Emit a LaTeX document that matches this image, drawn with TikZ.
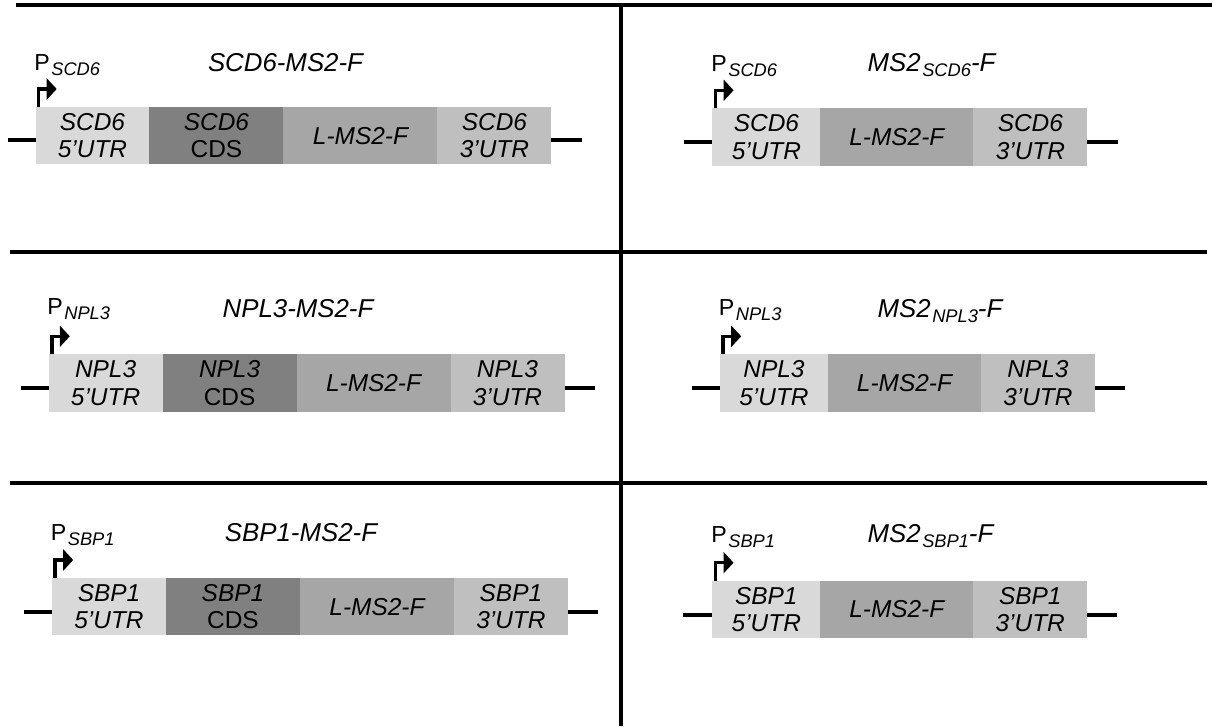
\documentclass[tikz,border=0pt]{standalone}
\usepackage{fontspec}
\setmainfont{Liberation Sans}
\usepackage{tikz}
\usetikzlibrary{arrows.meta, positioning}

\definecolor{utrfive}{HTML}{D9D9D9}
\definecolor{cdsgray}{HTML}{808080}
\definecolor{msgray}{HTML}{A6A6A6}
\definecolor{utrthree}{HTML}{BFBFBF}

\newcommand{\lowsub}[1]{\kern0.03cm\raisebox{-0.1cm}{\fontsize{10.4}{12}\selectfont\itshape #1}}

\tikzset{
  seg/.style={rectangle, inner sep=0pt, outer sep=0pt, minimum height=1.15cm, align=center, font=\fontsize{13.9}{15.5}\selectfont\itshape},
  fiveutr/.style={seg, fill=utrfive, minimum width=2.28cm},
  fiveutrs/.style={seg, fill=utrfive, minimum width=2.16cm},
  cds/.style={seg, fill=cdsgray, minimum width=2.68cm},
  linker/.style={seg, fill=msgray, minimum width=3.08cm},
  linkers/.style={seg, fill=msgray, minimum width=3.06cm},
  threeutr/.style={seg, fill=utrthree, minimum width=2.28cm},
  dna/.style={line width=0.08cm},
  divider/.style={line width=0.08cm},
  prom/.style={line width=0.07cm, -{Triangle[length=0.2cm, width=0.42cm]}},
  plab/.style={inner sep=0pt, anchor=base west, font=\fontsize{13.2}{15}\selectfont},
  constr/.style={inner sep=0pt, anchor=base, font=\fontsize{14.7}{17}\selectfont\itshape},
}

\begin{document}
\begin{tikzpicture}[x=0.02cm, y=-0.02cm]
  \useasboundingbox (0,0) rectangle (1212,726);

  % grid
  \draw[divider] (16,5) -- (1212,5);
  \draw[divider] (10,252) -- (1207,252);
  \draw[divider] (10,482.5) -- (1207,482.5);
  \draw[divider] (621,5) -- (621,726);

  % SCD6-MS2-F
  \node[fiveutr, anchor=north west] at (35.5,107) (tl5) {SCD6\\5’UTR};
  \node[cds, right=0pt of tl5]      (tlc) {SCD6\\\textup{CDS}};
  \node[linker, right=0pt of tlc]   (tlm) {L-MS2-F};
  \node[threeutr, right=0pt of tlm] (tl3) {SCD6\\3’UTR};
  \node[plab] at (34,70.5) (tlp) {P\lowsub{SCD6}};
  \node[constr] at (285.5,71.5) (tlt) {SCD6-MS2-F};
  \coordinate (tlL) at (7.5,140.5);
  \coordinate (tlR) at (581.5,140.5);
  \draw[dna] (tlL) -- (tlL -| tl5.west);
  \draw[dna] (tl3.east |- tlR) -- (tlR);
  \draw[prom] ([xshift=0.064cm]tl5.north west) |- ++(18,-18);

  % MS2_SCD6-F
  \node[fiveutrs, anchor=north west] at (712.4,108.3) (tr5) {SCD6\\5’UTR};
  \node[linkers, right=0pt of tr5]  (trm) {L-MS2-F};
  \node[threeutr, right=0pt of trm] (tr3) {SCD6\\3’UTR};
  \node[plab] at (711,71.7) (trp) {P\lowsub{SCD6}};
  \node[constr] at (931.5,71.7) (trt) {MS2\lowsub{SCD6}-F};
  \coordinate (trL) at (684,141.8);
  \coordinate (trR) at (1117.5,141.8);
  \draw[dna] (trL) -- (trL -| tr5.west);
  \draw[dna] (tr3.east |- trR) -- (trR);
  \draw[prom] ([xshift=0.064cm]tr5.north west) |- ++(18,-18);

  % NPL3-MS2-F
  \node[fiveutr, anchor=north west] at (48.6,354.3) (ml5) {NPL3\\5’UTR};
  \node[cds, right=0pt of ml5]      (mlc) {NPL3\\\textup{CDS}};
  \node[linker, right=0pt of mlc]   (mlm) {L-MS2-F};
  \node[threeutr, right=0pt of mlm] (ml3) {NPL3\\3’UTR};
  \node[plab] at (47,314.5) (mlp) {P\lowsub{NPL3}};
  \node[constr] at (298,317.3) (mlt) {NPL3-MS2-F};
  \coordinate (mlL) at (20.6,387.8);
  \coordinate (mlR) at (594.6,387.8);
  \draw[dna] (mlL) -- (mlL -| ml5.west);
  \draw[dna] (ml3.east |- mlR) -- (mlR);
  \draw[prom] ([xshift=0.064cm]ml5.north west) |- ++(18,-18);

  % MS2_NPL3-F
  \node[fiveutrs, anchor=north west] at (720,354.3) (mr5) {NPL3\\5’UTR};
  \node[linkers, right=0pt of mr5]  (mrm) {L-MS2-F};
  \node[threeutr, right=0pt of mrm] (mr3) {NPL3\\3’UTR};
  \node[plab] at (718.5,315) (mrp) {P\lowsub{NPL3}};
  \node[constr] at (940,317.3) (mrt) {MS2\lowsub{NPL3}-F};
  \coordinate (mrL) at (692,387.8);
  \coordinate (mrR) at (1125,387.8);
  \draw[dna] (mrL) -- (mrL -| mr5.west);
  \draw[dna] (mr3.east |- mrR) -- (mrR);
  \draw[prom] ([xshift=0.064cm]mr5.north west) |- ++(18,-18);

  % SBP1-MS2-F
  \node[fiveutr, anchor=north west] at (52,578) (bl5) {SBP1\\5’UTR};
  \node[cds, right=0pt of bl5]      (blc) {SBP1\\\textup{CDS}};
  \node[linker, right=0pt of blc]   (blm) {L-MS2-F};
  \node[threeutr, right=0pt of blm] (bl3) {SBP1\\3’UTR};
  \node[plab] at (50.5,540.7) (blp) {P\lowsub{SBP1}};
  \node[constr] at (301,541.5) (blt) {SBP1-MS2-F};
  \coordinate (blL) at (24,611.5);
  \coordinate (blR) at (598,611.5);
  \draw[dna] (blL) -- (blL -| bl5.west);
  \draw[dna] (bl3.east |- blR) -- (blR);
  \draw[prom] ([xshift=0.064cm]bl5.north west) |- ++(18,-18);

  % MS2_SBP1-F
  \node[fiveutrs, anchor=north west] at (712.3,580.7) (br5) {SBP1\\5’UTR};
  \node[linkers, right=0pt of br5]  (brm) {L-MS2-F};
  \node[threeutr, right=0pt of brm] (br3) {SBP1\\3’UTR};
  \node[plab] at (711,542.3) (brp) {P\lowsub{SBP1}};
  \node[constr] at (930.5,542.3) (brt) {MS2\lowsub{SBP1}-F};
  \coordinate (brL) at (683,614.5);
  \coordinate (brR) at (1117.3,614.5);
  \draw[dna] (brL) -- (brL -| br5.west);
  \draw[dna] (br3.east |- brR) -- (brR);
  \draw[prom] ([xshift=0.064cm]br5.north west) |- ++(18,-18);
\end{tikzpicture}
\end{document}
